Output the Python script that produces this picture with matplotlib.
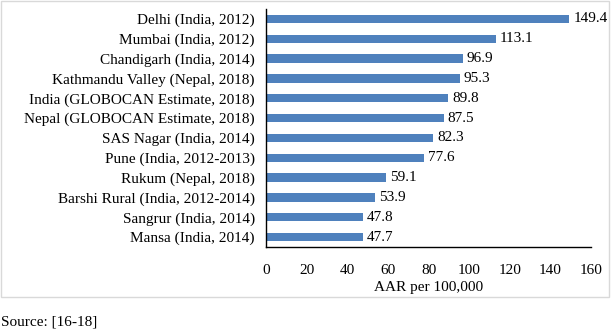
import matplotlib.pyplot as plt
from matplotlib.patches import Rectangle

labels = ['Delhi (India, 2012)', 'Mumbai (India, 2012)', 'Chandigarh (India, 2014)',
          'Kathmandu Valley (Nepal, 2018)', 'India (GLOBOCAN Estimate, 2018)',
          'Nepal (GLOBOCAN Estimate, 2018)', 'SAS Nagar (India, 2014)',
          'Pune (India, 2012-2013)', 'Rukum (Nepal, 2018)',
          'Barshi Rural (India, 2012-2014)', 'Sangrur (India, 2014)',
          'Mansa (India, 2014)']
values = [149.4, 113.1, 96.9, 95.3, 89.8, 87.5, 82.3, 77.6, 59.1, 53.9, 47.8, 47.7]
xticks = [0, 20, 40, 60, 80, 100, 120, 140, 160]

plt.rcParams['font.family'] = ['Liberation Serif', 'DejaVu Serif']
plt.rcParams['font.size'] = 11

fig = plt.figure(figsize=(6.11, 3.32), dpi=100)
ax = fig.add_axes([266 / 611, 1 - 247 / 332, 325 / 611, 238 / 332])

pos = list(range(len(labels)))
ax.barh(pos, values, height=0.42, color='#4F81BD')
for p, v in zip(pos, values):
    ax.text(v + 2, p, f'{v}', va='center', ha='left')

ax.set_yticks(pos)
ax.set_yticklabels(labels)
ax.set_ylim(len(labels) - 0.5, -0.5)
ax.set_xlim(0, 160)
ax.set_xticks(xticks)
ax.tick_params(length=0)
ax.tick_params(axis='x', pad=12)
ax.tick_params(axis='y', pad=8)
ax.set_xlabel('AAR per 100,000', labelpad=3)
for s in ['top', 'right']:
    ax.spines[s].set_visible(False)
for s in ['left', 'bottom']:
    ax.spines[s].set_linewidth(1.0)

fig.patches.append(Rectangle((1 / 611, 1 - 297 / 332), 608 / 611, 296 / 332,
                             transform=fig.transFigure, fill=False,
                             edgecolor='#d9d9d9', linewidth=1))
fig.text(1 / 611, 1 - 322 / 332, 'Source: [16-18]', ha='left', va='center')

fig.savefig('out.png', dpi=100)
